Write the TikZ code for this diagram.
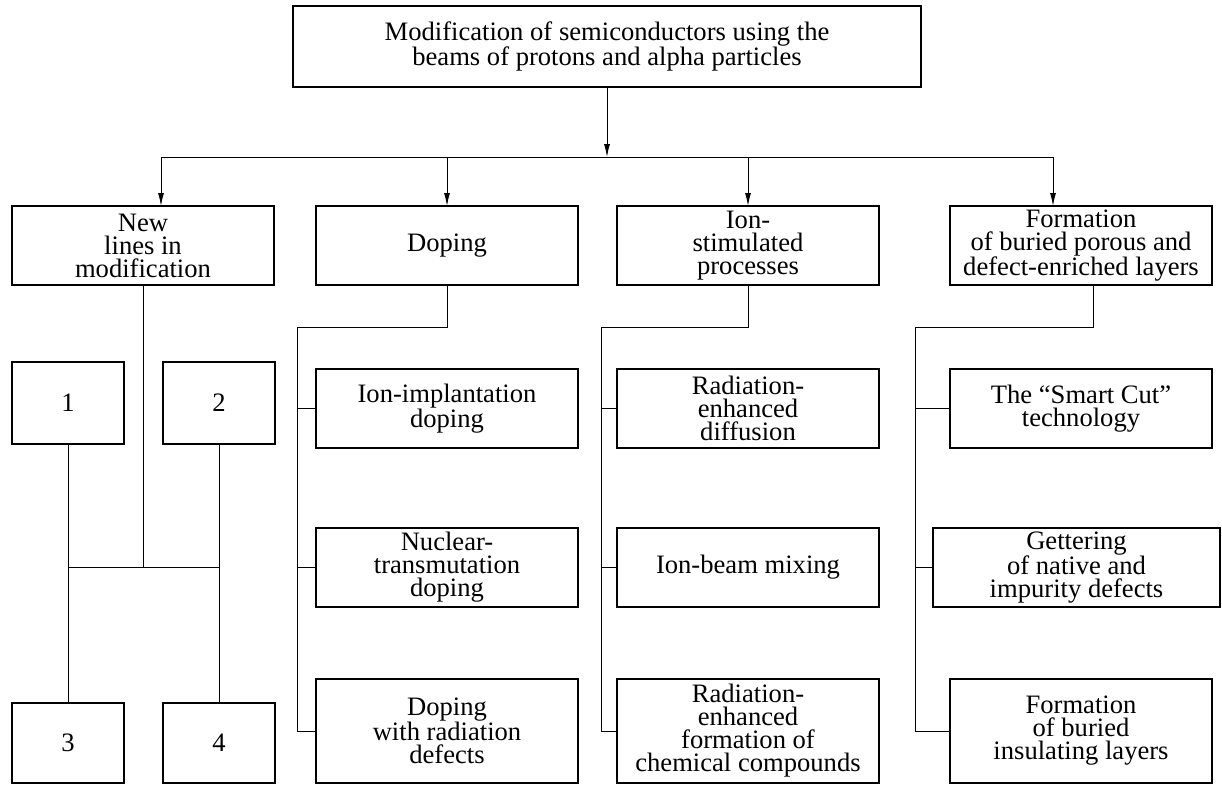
\documentclass[tikz,border=0pt]{standalone}
\usepackage{fontspec}
\setmainfont{Liberation Serif}
\usepackage{tikz}
\usetikzlibrary{arrows.meta, positioning, calc}
\tikzset{
  box/.style = {rectangle, draw, line width=1.4pt, align=center,
    minimum width=262pt, minimum height=79pt, inner sep=0pt, outer sep=0pt},
  numbox/.style = {box, minimum width=112pt, minimum height=82pt},
  link/.style = {line width=0.9pt},
  arrow/.style = {link, -{Latex[length=13pt,width=6pt]}},
}

\begin{document}
\begin{tikzpicture}[x=1pt, y=-1pt, font=\fontsize{26.6}{23}\selectfont]
  \useasboundingbox (0,0) rectangle (1222,784);

  % Root
  \node[box, minimum width=628pt, minimum height=81pt] (root) at (607,46.5)
    {Modification of semiconductors using the\\beams of protons and alpha particles};

  % Main branches
  \node[box] (lines)  at (143,245.5)  {New\\lines in\\modification};
  \node[box] (doping) at (447,245.5)  {Doping};
  \node[box] (ionst)  at (748,245.5)  {Ion-\\stimulated\\processes};
  \node[box] (layers) at (1081,245.5) {Formation\\of buried porous and\\defect-enriched layers};

  % New lines
  \node[numbox] (n1) at (68,403) {1};
  \node[numbox, right=39pt of n1] (n2) {2};
  \node[numbox, minimum height=80pt, below=259pt of n1] (n3) {3};
  \node[numbox, minimum height=80pt, below=259pt of n2] (n4) {4};

  % Doping column
  \node[box, below=84pt of doping] (dop1) {Ion-implantation\\doping};
  \node[box, below=80pt of dop1]   (dop2) {Nuclear-\\transmutation\\doping};
  \node[box, minimum height=104pt, below=72pt of dop2] (dop3) {Doping\\with radiation\\defects};

  % Ion-stimulated column
  \node[box, below=84pt of ionst] (ion1) {Radiation-\\enhanced\\diffusion};
  \node[box, below=80pt of ion1]  (ion2) {Ion-beam mixing};
  \node[box, minimum height=104pt, below=72pt of ion2] (ion3)
    {Radiation-\\enhanced\\formation of\\chemical compounds};

  % Buried layers column
  \node[box, below=84pt of layers] (lay1) {The “Smart Cut”\\technology};
  \node[box, minimum width=287pt, below=80pt of lay1, xshift=-4.5pt] (lay2)
    {Gettering\\of native and\\impurity defects};
  \node[box, minimum height=104pt, below=72pt of lay1 |- lay2.south] (lay3)
    {Formation\\of buried\\insulating layers};

  % Distribution bus
  \coordinate (busl) at (161,157);
  \coordinate (busr) at (1053,157);
  \draw[link] (busl) -- (busr);
  \draw[arrow] (root) -- (root.south |- busl);
  \draw[arrow] (busl) -- (busl |- lines.north);
  \draw[arrow] (doping.north |- busl) -- (doping);
  \draw[arrow] (ionst.north |- busl) -- (ionst);
  \draw[arrow] (busr) -- (busr |- layers.north);

  % New lines tree
  \coordinate (join) at (143,567);
  \draw[link] (lines) -- (join);
  \draw[link] (n1) -- (n3);
  \draw[link] (n2) -- (n4);
  \draw[link] (n1 |- join) -- (n2 |- join);

  % Sub-branch buses
  \coordinate (dtop) at (297,327);
  \coordinate (itop) at (601,327);
  \coordinate (ltop) at (915,327);
  \draw[link] (doping) |- (dtop) |- (dop3.west);
  \draw[link] (dop1.west) -- (dop1.west -| dtop);
  \draw[link] (dop2.west) -- (dop2.west -| dtop);
  \draw[link] (ionst) |- (itop) |- (ion3.west);
  \draw[link] (ion1.west) -- (ion1.west -| itop);
  \draw[link] (ion2.west) -- (ion2.west -| itop);
  \draw[link] ([xshift=12pt]layers.south) |- (ltop) |- (lay3.west);
  \draw[link] (lay1.west) -- (lay1.west -| ltop);
  \draw[link] (lay2.west) -- (lay2.west -| ltop);

\end{tikzpicture}
\end{document}
